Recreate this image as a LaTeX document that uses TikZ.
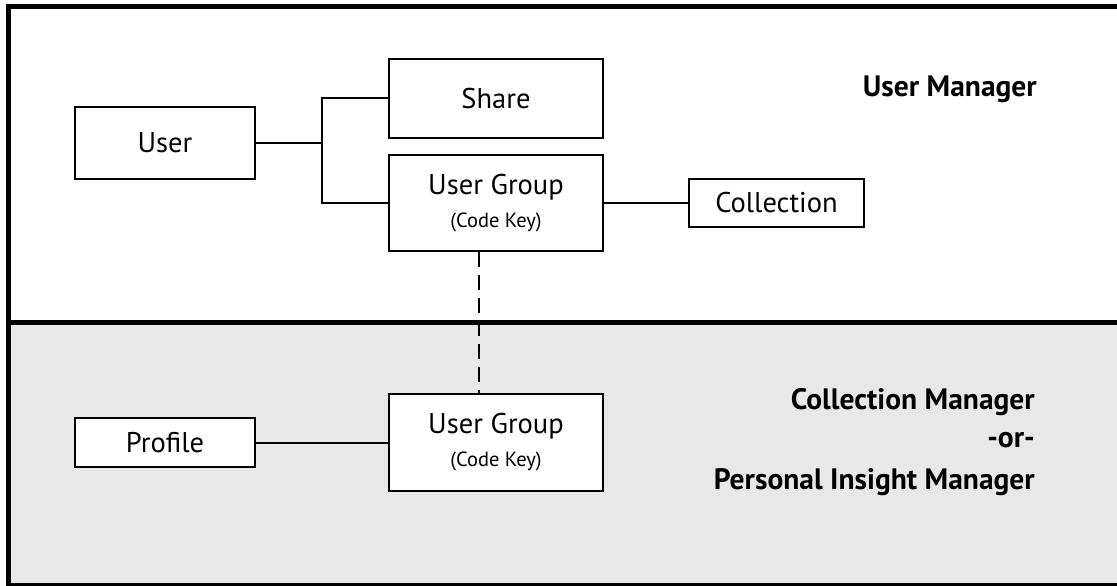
\documentclass[tikz,border=0pt]{standalone}
\usepackage{fontspec}
\setmainfont{PT Sans}
\usepackage{tikz}
\usetikzlibrary{positioning}
\definecolor{tierfill}{HTML}{E8E8E8}
\newcommand{\boxfont}{\fontsize{28.5}{33}\selectfont}
\newcommand{\keyfont}{\fontsize{20.5}{24}\selectfont}
\newcommand{\tierfont}{\fontsize{29.5}{36}\selectfont\bfseries}
\tikzset{
  entity/.style={draw, line width=2.3pt, fill=white, inner sep=0pt, align=center, font=\boxfont},
  tier/.style={anchor=base east, inner sep=0pt, font=\tierfont},
  link/.style={line width=2pt}
}

\begin{document}
\begin{tikzpicture}[x=1pt,y=-1pt]
\useasboundingbox (0,0) rectangle (1117,586);
\fill[tierfill] (11,325) rectangle (1117,583); % lower tier
\draw[line width=5pt] (8.5,586) -- (8.5,7) -- (1117,7);
\draw[line width=5pt] (11,322.5) -- (1117,322.5);
\draw[line width=2.7pt] (11,584.7) -- (1117,584.7);
% upper tier
\node[entity, minimum width=180pt, minimum height=72pt] (user) at (165,143) {User};
\node[entity, minimum width=214pt, minimum height=79pt] (share) at (496,98.5) {Share};
\node[entity, minimum width=214pt, minimum height=96pt] (ugroup) at (496,203) {User Group\\{\keyfont (Code Key)}};
\node[entity, minimum width=175pt, minimum height=48pt] (coll) at (776.5,203) {Collection};
\coordinate (fork) at (322,143);
\draw[link] (user) -- (fork);
\draw[link] (share.west) -| (fork);
\draw[link] (ugroup.west) -| (fork);
\draw[link] (ugroup) -- (coll);
\node[tier] (um) at (1037,96) {User Manager};
% lower tier
\node[entity, minimum width=214pt, minimum height=97pt] (pgroup) at (496,442.5) {User Group\\{\keyfont (Code Key)}};
\node[entity, minimum width=180pt, minimum height=49pt] (profile) at (165,442.5) {Profile};
\draw[link] (profile) -- (pgroup);
\draw[line width=1.6pt, dash pattern=on 15pt off 8pt] ([xshift=-17pt]ugroup.south) -- ([xshift=-17pt]pgroup.north);
\node[tier] (cm) at (1035,409) {Collection Manager};
\node[tier] (or) at (1035,447) {-or-};
\node[tier] (pim) at (1035,489) {Personal Insight Manager};
\end{tikzpicture}
\end{document}
